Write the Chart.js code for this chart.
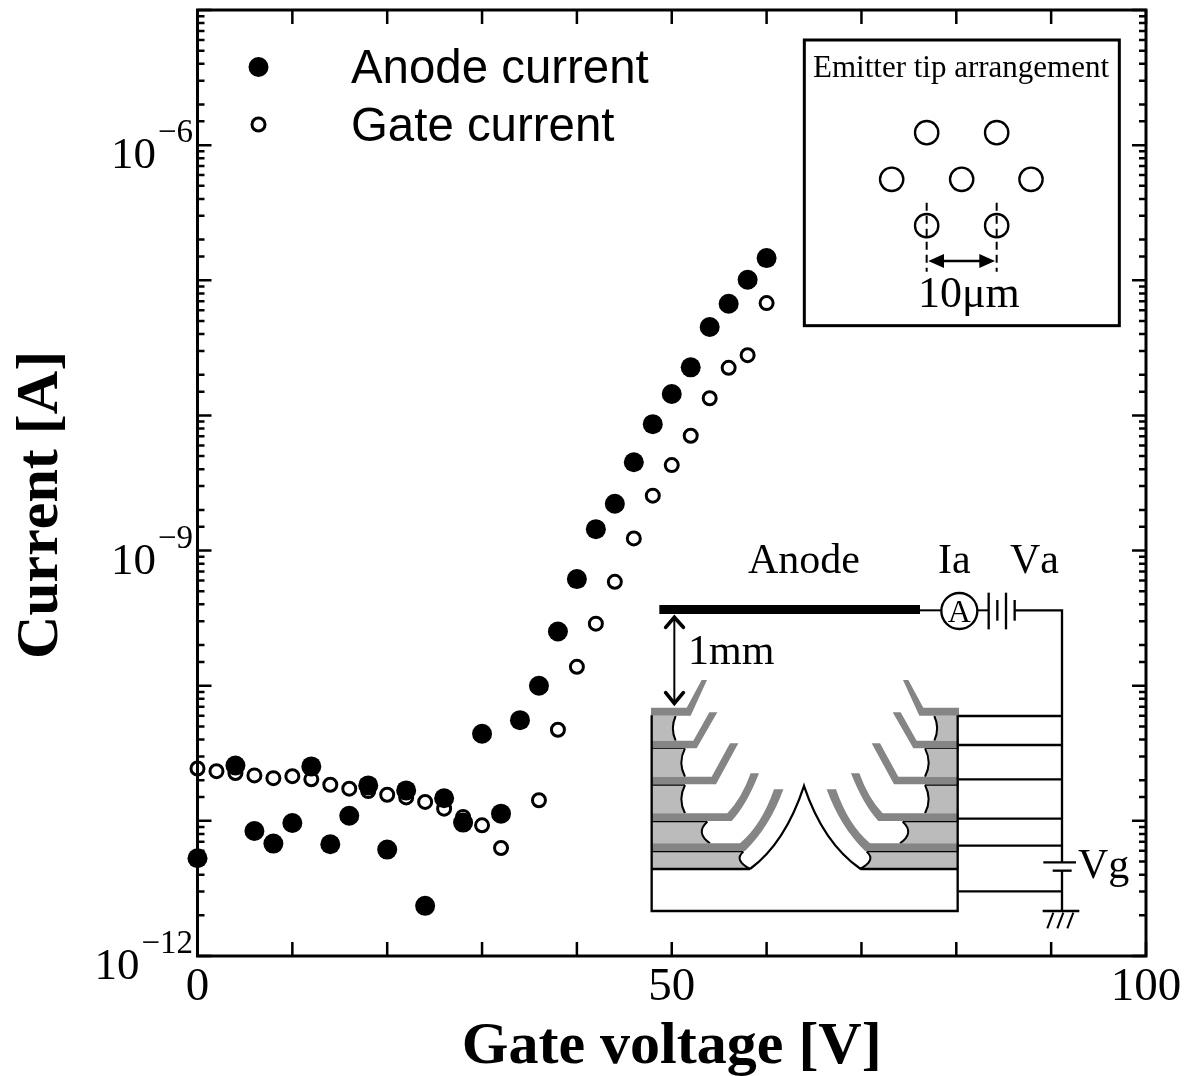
<!DOCTYPE html>
<html><head><meta charset="utf-8">
<style>html,body{margin:0;padding:0;background:#fff}canvas{display:block}</style>
<script src="https://cdn.jsdelivr.net/npm/chart.js@4"></script>
</head><body><canvas id="c" width="1191" height="1076"></canvas>
<script>
const anodeVoltage = [0,4,6,8,10,12,14,16,18,20,22,24,26,28,30,32,34,36,38,40,42,44,46,48,50,52,54,56,58,60];
const anodeCurrent = [5.29e-12,2.57e-11,8.42e-12,6.79e-12,9.65e-12,2.53e-11,6.71e-12,1.09e-11,1.83e-11,6.13e-12,1.68e-11,2.35e-12,1.47e-11,9.71e-12,4.41e-11,1.13e-11,5.56e-11,1.00e-10,2.52e-10,6.15e-10,1.44e-9,2.22e-9,4.50e-9,8.62e-9,1.44e-8,2.27e-8,4.51e-8,6.71e-8,1.01e-7,1.46e-7];
const gateVoltage = [0,2,4,6,8,10,12,14,16,18,20,22,24,26,28,30,32,36,38,40,42,44,46,48,50,52,54,56,58,60];
const gateCurrent = [2.44e-11,2.33e-11,2.26e-11,2.17e-11,2.07e-11,2.14e-11,2.03e-11,1.85e-11,1.73e-11,1.66e-11,1.56e-11,1.49e-11,1.38e-11,1.23e-11,1.07e-11,9.27e-12,6.30e-12,1.42e-11,4.72e-11,1.38e-10,2.88e-10,5.87e-10,1.23e-9,2.55e-9,4.29e-9,7.07e-9,1.34e-8,2.25e-8,2.79e-8,6.78e-8];
const xLabelled = [0,50,100];
const yLabelledExponents = [-6,-9,-12];
const yTitle = 'Current [A]';
const xTitle = 'Gate voltage [V]';
const seriesNames = ['Anode current','Gate current'];

const SERIF = '"Liberation Serif"', SANS = '"Liberation Sans"';
const zip = (xs, ys) => xs.map((x, i) => ({x, y: ys[i]}));

function line(ctx, pts, w) {
  ctx.lineWidth = w; ctx.beginPath();
  pts.forEach((p, i) => i ? ctx.lineTo(p[0], p[1]) : ctx.moveTo(p[0], p[1]));
  ctx.stroke();
}
function poly(ctx, pts) {
  ctx.beginPath();
  pts.forEach((p, i) => i ? ctx.lineTo(p[0], p[1]) : ctx.moveTo(p[0], p[1]));
  ctx.closePath(); ctx.fill();
}
function drawHalfDevice(ctx) {
  const ins = [[340,965,310,990,360,1017],[232,875,195,908,240,940],[165,765,143,808,165,850],[165,655,143,698,165,740],[137,558,120,595,137,632]];
  ctx.fillStyle = '#bbbbbb'; ctx.strokeStyle = '#000'; ctx.lineCap = 'butt';
  ins.forEach(a => {
    ctx.beginPath(); ctx.moveTo(65,a[1]); ctx.lineTo(a[0],a[1]); ctx.quadraticCurveTo(a[2],a[3],a[4],a[5]); ctx.lineTo(65,a[5]); ctx.closePath(); ctx.fill();
    ctx.lineWidth = 6; ctx.beginPath(); ctx.moveTo(a[0],a[1]); ctx.quadraticCurveTo(a[2],a[3],a[4],a[5]); ctx.stroke();
  });
  [965,875,765,655].forEach((y,i) => line(ctx, [[65,y],[[340,232,165,165][i],y]], 4));
  ctx.fillStyle = '#858585';
  poly(ctx, [[63,533],[170,533],[215,450],[231,450],[182,557],[63,557]]);
  poly(ctx, [[63,632],[190,632],[238,547],[262,547],[200,655],[63,655]]);
  poly(ctx, [[63,740],[245,740],[300,640],[325,640],[258,763],[63,763]]);
  ctx.beginPath(); ctx.moveTo(63,850); ctx.lineTo(292,850); ctx.quadraticCurveTo(335,805,362,730); ctx.lineTo(387,730); ctx.quadraticCurveTo(350,825,305,873); ctx.lineTo(63,873); ctx.closePath(); ctx.fill();
  ctx.beginPath(); ctx.moveTo(63,940); ctx.lineTo(330,940); ctx.quadraticCurveTo(395,885,432,778); ctx.lineTo(460,778); ctx.quadraticCurveTo(420,890,345,963); ctx.lineTo(63,963); ctx.closePath(); ctx.fill();
}
function drawDevice(ctx) {
  ctx.save(); ctx.translate(630,530); ctx.scale(1/3,1/3);
  drawHalfDevice(ctx);
  ctx.save(); ctx.translate(1050,0); ctx.scale(-1,1); drawHalfDevice(ctx); ctx.restore();
  ctx.strokeStyle = '#000';
  line(ctx, [[65,556],[65,1143],[983,1143],[983,556]], 7);
  line(ctx, [[65,1017],[360,1017]], 7);
  line(ctx, [[692,1017],[983,1017]], 7);
  ctx.lineWidth = 7;
  ctx.beginPath(); ctx.moveTo(360,1017); ctx.quadraticCurveTo(465,940,522,768); ctx.quadraticCurveTo(580,940,692,1017); ctx.stroke();
  ctx.fillStyle = '#000'; ctx.fillRect(88,225,782,27);
  line(ctx, [[870,241],[935,241]], 6);
  ctx.lineWidth = 7; ctx.beginPath(); ctx.arc(988,243,54,0,Math.PI*2); ctx.stroke();
  line(ctx, [[1043,241],[1076,241]], 6);
  [[1076,188,298],[1102,210,272],[1128,188,298],[1154,210,272]].forEach(b => line(ctx, [[b[0],b[1]],[b[0],b[2]]], 7));
  line(ctx, [[1154,241],[1296,241],[1296,997]], 7);
  line(ctx, [[1296,1022],[1296,1143]], 7);
  line(ctx, [[1240,997],[1338,997]], 7);
  line(ctx, [[1268,1022],[1325,1022]], 7);
  line(ctx, [[1238,1143],[1348,1143]], 7);
  [1270,1300,1330].forEach(x => line(ctx, [[x,1148],[x-18,1195]], 6));
  [558,645,748,866,947,1084].forEach(y => line(ctx, [[985,y],[1296,y]], 7));
  line(ctx, [[133,258],[133,520]], 6);
  ctx.lineCap = 'round';
  line(ctx, [[107,292],[133,262],[160,292]], 11);
  line(ctx, [[107,488],[133,520],[160,488]], 11);
  ctx.lineCap = 'butt';
  ctx.restore();
  ctx.fillStyle = '#000'; ctx.textAlign = 'left'; ctx.textBaseline = 'alphabetic';
  ctx.font = '42px ' + SERIF;
  ctx.fillText('Anode', 748, 573);
  ctx.fillText('Ia', 938, 573);
  ctx.fillText('Va', 1010, 573);
  ctx.fillText('1mm', 688, 664);
  ctx.fillText('Vg', 1078, 878);
  ctx.font = '32px ' + SERIF; ctx.textAlign = 'center';
  ctx.fillText('A', 959.3, 622);
}
function drawArrangement(ctx) {
  ctx.save(); ctx.translate(790,0); ctx.scale(1/3,1/3);
  ctx.strokeStyle = '#000'; ctx.fillStyle = '#fff';
  ctx.lineWidth = 9; ctx.fillRect(43,120,945,857); ctx.strokeRect(43,120,945,857);
  ctx.lineWidth = 7;
  [[410,398],[620,398],[305,538],[515,538],[723,538],[410,677],[620,677]].forEach(p => {
    ctx.beginPath(); ctx.arc(p[0],p[1],35,0,Math.PI*2); ctx.stroke();
  });
  ctx.setLineDash([24,15]);
  line(ctx, [[410,608],[410,815]], 6);
  line(ctx, [[620,608],[620,815]], 6);
  ctx.setLineDash([]);
  line(ctx, [[430,783],[600,783]], 7);
  ctx.fillStyle = '#000';
  poly(ctx, [[415,783],[462,762],[462,804]]);
  poly(ctx, [[615,783],[568,762],[568,804]]);
  ctx.restore();
  ctx.fillStyle = '#000'; ctx.textAlign = 'left'; ctx.textBaseline = 'alphabetic';
  ctx.font = '31px ' + SERIF; ctx.fillText('Emitter tip arrangement', 813, 77);
  ctx.font = '44px ' + SERIF; ctx.fillText('10μm', 918, 307);
}

const framePlugin = {
  id: 'frame',
  beforeDatasetsDraw(chart) {
    const {ctx, chartArea: a, scales: {x, y}} = chart;
    ctx.save(); ctx.strokeStyle = '#000'; ctx.lineCap = 'butt';
    ctx.lineWidth = 2.5;
    x.ticks.forEach(t => {
      const px = x.getPixelForValue(t.value);
      ctx.beginPath(); ctx.moveTo(px,a.bottom); ctx.lineTo(px,a.bottom-14); ctx.moveTo(px,a.top); ctx.lineTo(px,a.top+14); ctx.stroke();
    });
    y.ticks.forEach(t => {
      const py = y.getPixelForValue(t.value), len = t.major ? 14 : 7;
      ctx.beginPath(); ctx.moveTo(a.left,py); ctx.lineTo(a.left+len,py); ctx.moveTo(a.right,py); ctx.lineTo(a.right-len,py); ctx.stroke();
    });
    ctx.lineWidth = 3; ctx.strokeRect(a.left,a.top,a.right-a.left,a.bottom-a.top);
    ctx.restore();
  },
  afterDatasetsDraw(chart) {
    const {ctx, scales: {y}} = chart;
    ctx.save();
    ctx.fontKerning = 'none';
    ctx.fillStyle = '#000'; ctx.textBaseline = 'alphabetic';
    yLabelledExponents.forEach(e => {
      const py = y.getPixelForValue(Math.pow(10,e));
      const exp = '\u2212' + Math.abs(e);
      ctx.textAlign = 'right';
      ctx.font = '33px ' + SERIF; ctx.fillText(exp, 193, py - 3);
      const w = ctx.measureText(exp).width;
      ctx.font = '45px ' + SERIF; ctx.fillText('10', 193 - w - 2, py + 23);
    });
    ctx.save(); ctx.translate(57,505); ctx.rotate(-Math.PI/2);
    ctx.textAlign = 'center'; ctx.font = 'bold 60px ' + SERIF; ctx.fillText(yTitle,0,0);
    ctx.restore();
    ctx.textAlign = 'left'; ctx.font = '47.4px ' + SANS;
    ctx.fillText(seriesNames[0], 351, 83);
    ctx.fillText(seriesNames[1], 351, 141);
    ctx.beginPath(); ctx.arc(258.5,67,10,0,Math.PI*2); ctx.fill();
    ctx.strokeStyle = '#000'; ctx.lineWidth = 3;
    ctx.beginPath(); ctx.arc(258.5,124.5,6.5,0,Math.PI*2); ctx.stroke();
    drawDevice(ctx);
    drawArrangement(ctx);
    ctx.restore();
  }
};

new Chart(document.getElementById('c'), {
  type: 'scatter',
  data: {datasets: [
    {label: seriesNames[0], data: zip(anodeVoltage, anodeCurrent), backgroundColor:'#000', borderColor:'#000', borderWidth:0, pointRadius:10, clip:false},
    {label: seriesNames[1], data: zip(gateVoltage, gateCurrent), backgroundColor:'rgba(0,0,0,0)', borderColor:'#000', borderWidth:3, pointRadius:6.5, clip:false}
  ]},
  options: {
    responsive:false, animation:false, devicePixelRatio:1,
    layout:{padding:{top:8,right:45,left:0,bottom:0}},
    plugins:{legend:{display:false},tooltip:{enabled:false}},
    scales:{
      x:{type:'linear',min:0,max:100,
        afterFit(s){s.height=120;},
        afterBuildTicks(s){s.ticks=Array.from({length:11},(_,i)=>({value:i*10}));},
        border:{display:false},grid:{display:false,drawTicks:false},
        ticks:{autoSkip:false,maxRotation:0,padding:3,color:'#000',font:{family:SERIF,size:47},
          callback:v=>xLabelled.includes(v)?String(v):''},
        title:{display:true,text:xTitle,color:'#000',font:{family:SERIF,size:60,weight:'bold',lineHeight:0.95},padding:{top:0,bottom:0}}
      },
      y:{type:'logarithmic',min:1e-12,max:1e-5,
        afterFit(s){s.width=197.5;},
        border:{display:false},grid:{display:false,drawTicks:false},
        ticks:{display:false,autoSkip:false,major:{enabled:true}}
      }
    }
  },
  plugins:[framePlugin]
});
</script></body></html>
